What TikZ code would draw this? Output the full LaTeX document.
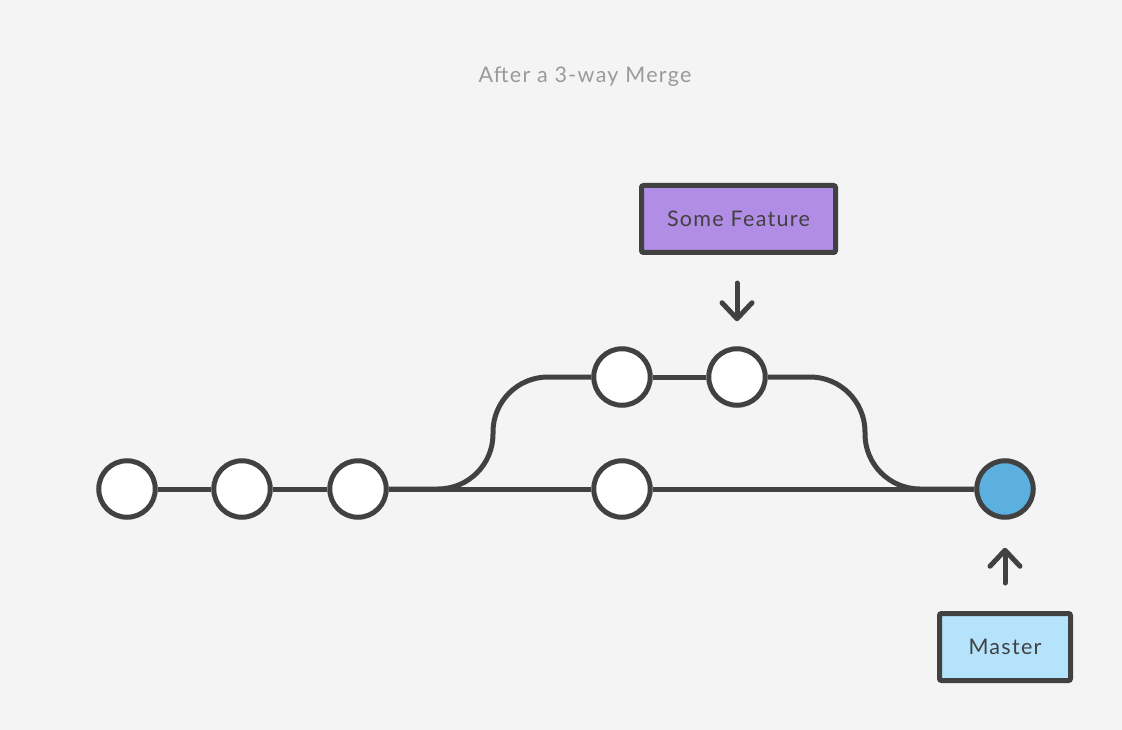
\documentclass[tikz,border=0pt]{standalone}
\usepackage{fontspec}
\setmainfont{Lato}[LetterSpace=6]
\usetikzlibrary{arrows.meta}
\definecolor{bg}{HTML}{F4F4F4}
\definecolor{ink}{HTML}{414141}
\definecolor{titlegray}{HTML}{9A9A9A}
\definecolor{featfill}{HTML}{B18DE5}
\definecolor{masterfill}{HTML}{B4E3FB}
\definecolor{headfill}{HTML}{5CB0E0}
\tikzset{
  commit/.style={circle, draw=ink, line width=5pt, fill=white, minimum size=56.5pt, inner sep=0pt},
  headcommit/.style={commit, fill=headfill},
  label box/.style={rectangle, draw=ink, line width=5pt, rounded corners=2pt, inner sep=0pt, font=\fontsize{21.5}{24}\selectfont, text=ink},
  edge/.style={draw=ink, line width=5pt},
  branch/.style={edge, rounded corners=55pt},
  pointer/.style={draw=ink, line width=5pt, line cap=round, -{Straight Barb[length=16pt,width=30pt,line cap=round,line join=round]}}
}
\begin{document}
\begin{tikzpicture}[x=1pt,y=-1pt]
\fill[bg] (0,0) rectangle (1122,730);
\useasboundingbox (0,0) rectangle (1122,730);
\node[text=titlegray, font=\fontsize{21.5}{24}\selectfont] (title) at (585,77) {After a 3-way Merge};
% commits
\node[commit] (c1) at (127,489) {};
\node[commit] (c2) at (242,489) {};
\node[commit] (c3) at (358,489) {};
\node[commit] (c4) at (622,489) {};
\node[headcommit] (c5) at (1005,489) {};
\node[commit] (f1) at (622,377) {};
\node[commit] (f2) at (737,377) {};
\coordinate (split) at (493,489);
\coordinate (splitup) at (493,377);
\coordinate (join) at (865,489);
\coordinate (joinup) at (865,377);
\draw[edge] (c1) -- (c2);
\draw[edge] (c2) -- (c3);
\draw[edge] (c3) -- (c4);
\draw[edge] (c4) -- (c5);
\draw[edge] (f1) -- (f2);
\draw[branch] (c3.east) -- (split) -- (splitup) -- (f1.west);
\draw[branch] (f2.east) -- (joinup) -- (join) -- (c5.west);
% labels
\node[label box, fill=featfill, minimum width=194pt, minimum height=67pt] (feat) at (738.5,219) {Some Feature};
\node[label box, fill=masterfill, minimum width=131pt, minimum height=67pt] (master) at (1005,647) {Master};
\draw[pointer, shorten <=28pt, shorten >=25pt] (feat.south -| f2) -- (f2.north);
\draw[pointer, shorten <=28pt, shorten >=28pt] (master.north) -- (c5.south);
\end{tikzpicture}
\end{document}
